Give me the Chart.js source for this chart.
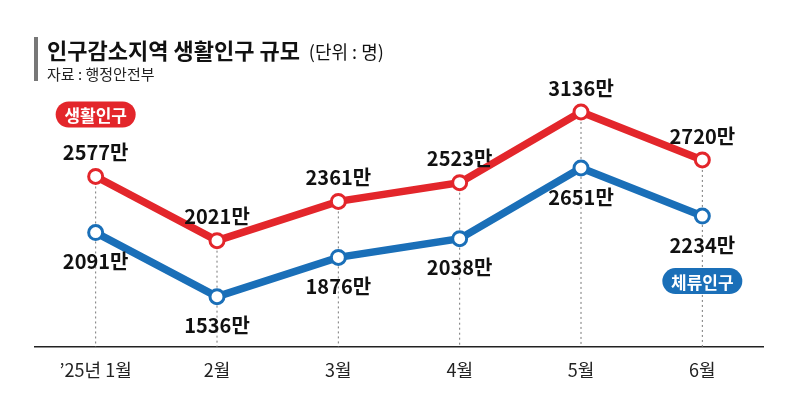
<!DOCTYPE html>
<html>
<head>
<meta charset="utf-8">
<script src="https://cdn.jsdelivr.net/npm/chart.js@4"></script>
<style>
  html, body { margin: 0; padding: 0; background: #fff; }
  #wrap { width: 800px; height: 411px; }
</style>
</head>
<body>
<div id="wrap"><canvas id="chart" width="800" height="411"></canvas></div>
<script>
const months = ['’25년 1월', '2월', '3월', '4월', '5월', '6월'];
const livingPop = [2577, 2021, 2361, 2523, 3136, 2720];
const stayPop = [2091, 1536, 1876, 2038, 2651, 2234];

const RED = '#e3262b';
const BLUE = '#1a6fb8';
const FONT = "'Noto Sans CJK KR', 'Noto Sans', sans-serif";

// title, source, guide lines, value labels and pills
const decor = {
  id: 'decor',
  beforeDatasetsDraw(chart) {
    const { ctx, scales: { x, y } } = chart;
    ctx.save();
    ctx.strokeStyle = '#777';
    ctx.lineWidth = 1;
    ctx.setLineDash([2, 3]);
    months.forEach((m, i) => {
      const px = x.getPixelForValue(i);
      const top = y.getPixelForValue(Math.max(livingPop[i], stayPop[i]));
      ctx.beginPath();
      ctx.moveTo(px, top);
      ctx.lineTo(px, chart.chartArea.bottom);
      ctx.stroke();
    });
    ctx.restore();
  },
  afterDraw(chart) {
    const { ctx, scales: { x, y } } = chart;
    ctx.save();
    // title block
    ctx.fillStyle = '#777';
    ctx.fillRect(34, 37, 4, 44);
    ctx.fillStyle = '#111';
    ctx.textBaseline = 'middle';
    ctx.textAlign = 'left';
    ctx.font = 'bold 22px ' + FONT;
    const title = '인구감소지역 생활인구 규모';
    ctx.fillText(title, 47, 51);
    const tw = ctx.measureText(title).width;
    ctx.font = '18px ' + FONT;
    ctx.fillText('(단위 : 명)', 47 + tw + 9, 52);
    ctx.font = '15px ' + FONT;
    ctx.fillStyle = '#222';
    ctx.fillText('자료 : 행정안전부', 47, 74);

    // value labels
    ctx.font = 'bold 20px ' + FONT;
    ctx.fillStyle = '#111';
    ctx.textAlign = 'center';
    months.forEach((m, i) => {
      const px = x.getPixelForValue(i);
      ctx.fillText(livingPop[i] + '만', px, y.getPixelForValue(livingPop[i]) - 24);
      ctx.fillText(stayPop[i] + '만', px, y.getPixelForValue(stayPop[i]) + 29);
    });

    // series pills
    const pill = (label, color, cx, cy) => {
      const w = 80, h = 26, r = h / 2;
      ctx.fillStyle = color;
      ctx.beginPath();
      ctx.roundRect(cx - w / 2, cy - h / 2, w, h, r);
      ctx.fill();
      ctx.fillStyle = '#fff';
      ctx.font = 'bold 17px ' + FONT;
      ctx.fillText(label, cx, cy + 1);
    };
    pill('생활인구', RED, x.getPixelForValue(0), y.getPixelForValue(livingPop[0]) - 62);
    pill('체류인구', BLUE, x.getPixelForValue(5), y.getPixelForValue(stayPop[5]) + 65);
    ctx.restore();
  }
};

new Chart(document.getElementById('chart').getContext('2d'), {
  type: 'line',
  data: {
    labels: months,
    datasets: [
      {
        label: '생활인구',
        data: livingPop,
        borderColor: RED,
        borderWidth: 7.5,
        pointRadius: 7,
        pointBorderWidth: 3,
        pointBackgroundColor: '#fff',
        pointBorderColor: RED,
        tension: 0,
      },
      {
        label: '체류인구',
        data: stayPop,
        borderColor: BLUE,
        borderWidth: 7.5,
        pointRadius: 7,
        pointBorderWidth: 3,
        pointBackgroundColor: '#fff',
        pointBorderColor: BLUE,
        tension: 0,
      },
    ],
  },
  options: {
    responsive: false,
    animation: false,
    layout: { padding: { left: 35, right: 37, top: 93, bottom: 0 } },
    scales: {
      x: {
        offset: true,
        grid: { display: false },
        border: { display: true, color: '#222', width: 1.5 },
        ticks: { color: '#222', padding: 4, font: { family: FONT, size: 18 } },
        afterFit: (s) => { s.height = 64; },
      },
      y: {
        display: false,
        min: 1100,
        max: 3300,
      },
    },
    plugins: {
      legend: { display: false },
      tooltip: { enabled: false },
    },
  },
  plugins: [decor],
});
</script>
</body>
</html>
